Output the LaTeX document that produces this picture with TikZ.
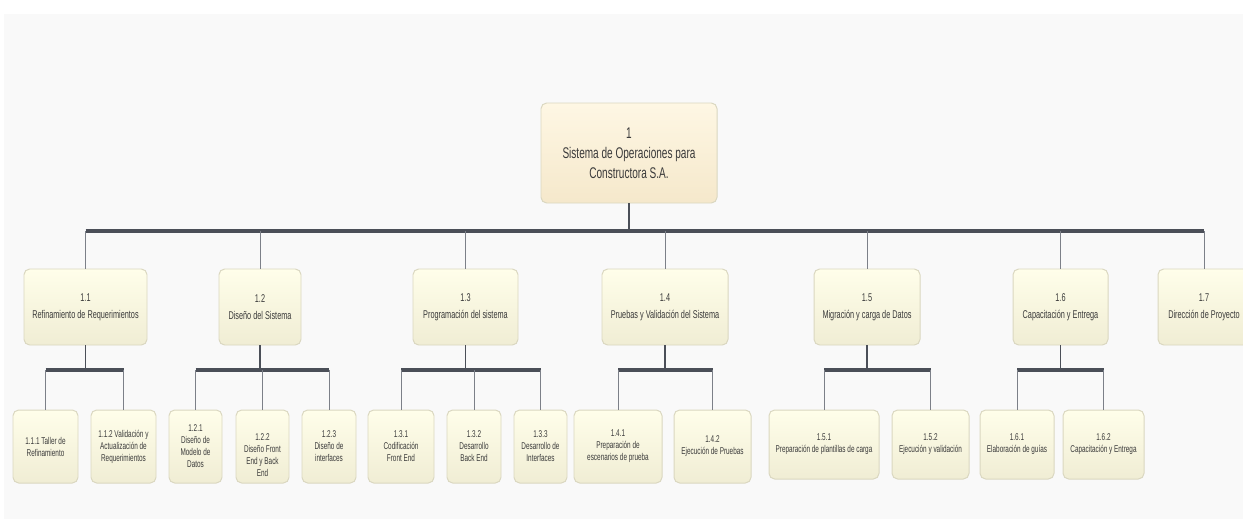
\documentclass[tikz,border=0pt]{standalone}
\usepackage{fontspec}
\setmainfont{Liberation Sans}[FakeStretch=0.65]
\usepackage{tikz}
\usetikzlibrary{calc}
\definecolor{pageback}{HTML}{F9F9F9}
\definecolor{boxline}{HTML}{DAD7C0}
\definecolor{boxtop}{HTML}{FFFEEA}
\definecolor{boxbot}{HTML}{F0EDD4}
\definecolor{roottop}{HTML}{FEF7E4}
\definecolor{rootbot}{HTML}{F5E8CB}
\definecolor{inktext}{HTML}{3A3A3A}
\definecolor{barink}{HTML}{4B4F58}
\definecolor{dropink}{HTML}{7C8088}
\newdimen\px \px=0.025cm
\tikzstyle{box} = [draw=boxline, line width=0.7pt, rounded corners=4pt, align=center, inner sep=1pt, text=inktext, top color=boxtop, bottom color=boxbot]
\tikzstyle{rootbox} = [box, minimum height=100\px, top color=roottop, bottom color=rootbot, font=\fontsize{11}{14.2}\selectfont]
\tikzstyle{phase} = [box, minimum height=76\px, font=\fontsize{8}{12}\selectfont]
\tikzstyle{task} = [box, minimum height=73\px, font=\fontsize{7}{8.5}\selectfont]
\tikzstyle{bar} = [draw=barink, line width=2.8pt]
\tikzstyle{trunk} = [draw=barink, line width=1.4pt]
\tikzstyle{drop} = [draw=dropink, line width=0.7pt]

\begin{document}
\begin{tikzpicture}[x=0.025cm, y=-0.025cm]
	\clip (0,0) rectangle (1243,521);
	\fill[white] (0,0) rectangle (1243,521);
	\fill[pageback] (4,14) rectangle (1243,519);
	% rows of the connector bars
	\coordinate (r1) at (0,231);
	\coordinate (r2) at (0,370);
	% top
	\node[rootbox, minimum width=176\px] (root) at (629,153) {1\\Sistema de Operaciones para\\Constructora S.A.};
	% phases
	\node[phase, minimum width=123\px] (n11) at (85.5,307) {1.1\\Refinamiento de Requerimientos};
	\node[phase, minimum width=82\px] (n12) at (260,307) {1.2\\Diseño del Sistema};
	\node[phase, minimum width=105\px] (n13) at (465.5,307) {1.3\\Programación del sistema};
	\node[phase, minimum width=126\px] (n14) at (665,307) {1.4\\Pruebas y Validación del Sistema};
	\node[phase, minimum width=106\px] (n15) at (867,307) {1.5\\Migración y carga de Datos};
	\node[phase, minimum width=95\px] (n16) at (1060.5,307) {1.6\\Capacitación y Entrega};
	\node[phase, minimum width=92\px] (n17) at (1204,307) {1.7\\Dirección de Proyecto};
	% tasks
	\node[task, minimum width=65\px] (n111) at (45.5,446.5) {1.1.1 Taller de\\Refinamiento};
	\node[task, minimum width=65\px] (n112) at (123.5,446.5) {1.1.2 Validación y\\Actualización de\\Requerimientos};
	\node[task, minimum width=53\px] (n121) at (195.5,446.5) {1.2.1\\Diseño de\\Modelo de\\Datos};
	\node[task, minimum width=53\px, label={[font=\fontsize{7}{8.5}\selectfont, text=inktext, align=center, yshift=-9\px]center:{1.2.2\\Diseño Front\\End y Back\\End}}] (n122) at (262.5,446.5) {};
	\node[task, minimum width=54\px] (n123) at (329,446.5) {1.2.3\\Diseño de\\interfaces};
	\node[task, minimum width=66\px] (n131) at (401,446.5) {1.3.1\\Codificación\\Front End};
	\node[task, minimum width=54\px] (n132) at (474,446.5) {1.3.2\\Desarrollo\\Back End};
	\node[task, minimum width=53\px] (n133) at (540.5,446.5) {1.3.3\\Desarrollo de\\Interfaces};
	\node[task, minimum width=88\px] (n141) at (618,446.5) {1.4.1\\Preparación de\\escenarios de prueba};
	\node[task, minimum width=77\px] (n142) at (712.5,446.5) {1.4.2\\Ejecución de Pruebas};
	\node[task, minimum width=110\px, minimum height=69\px] (n151) at (824,444.5) {1.5.1\\Preparación de plantillas de carga};
	\node[task, minimum width=77\px, minimum height=69\px] (n152) at (930.5,444.5) {1.5.2\\Ejecución y validación};
	\node[task, minimum width=74\px, minimum height=69\px] (n161) at (1017,444.5) {1.6.1\\Elaboración de guías};
	\node[task, minimum width=81\px, minimum height=69\px] (n162) at (1103.5,444.5) {1.6.2\\Capacitación y Entrega};
	% root to phases
	\draw[trunk] (root) -- (root |- r1);
	\draw[bar] (n11 |- r1) -- (n17 |- r1);
	\foreach \c in {n11,n12,n13,n14,n15,n16,n17}
		\draw[drop] (\c |- r1) -- (\c);
	% phases to tasks
	\draw[trunk] (n11) -- (n11 |- r2);
	\draw[bar] (n111 |- r2) -- (n112 |- r2);
	\draw[trunk] (n12) -- (n12 |- r2);
	\draw[bar] (n121 |- r2) -- (n123 |- r2);
	\draw[trunk] (n13) -- (n13 |- r2);
	\draw[bar] (n131 |- r2) -- (n133 |- r2);
	\draw[trunk] (n14) -- (n14 |- r2);
	\draw[bar] (n141 |- r2) -- (n142 |- r2);
	\draw[trunk] (n15) -- (n15 |- r2);
	\draw[bar] (n151 |- r2) -- (n152 |- r2);
	\draw[trunk] (n16) -- (n16 |- r2);
	\draw[bar] (n161 |- r2) -- (n162 |- r2);
	\foreach \c in {n111,n112,n121,n122,n123,n131,n132,n133,n141,n142,n151,n152,n161,n162}
		\draw[drop] (\c |- r2) -- (\c);
\end{tikzpicture}
\end{document}
